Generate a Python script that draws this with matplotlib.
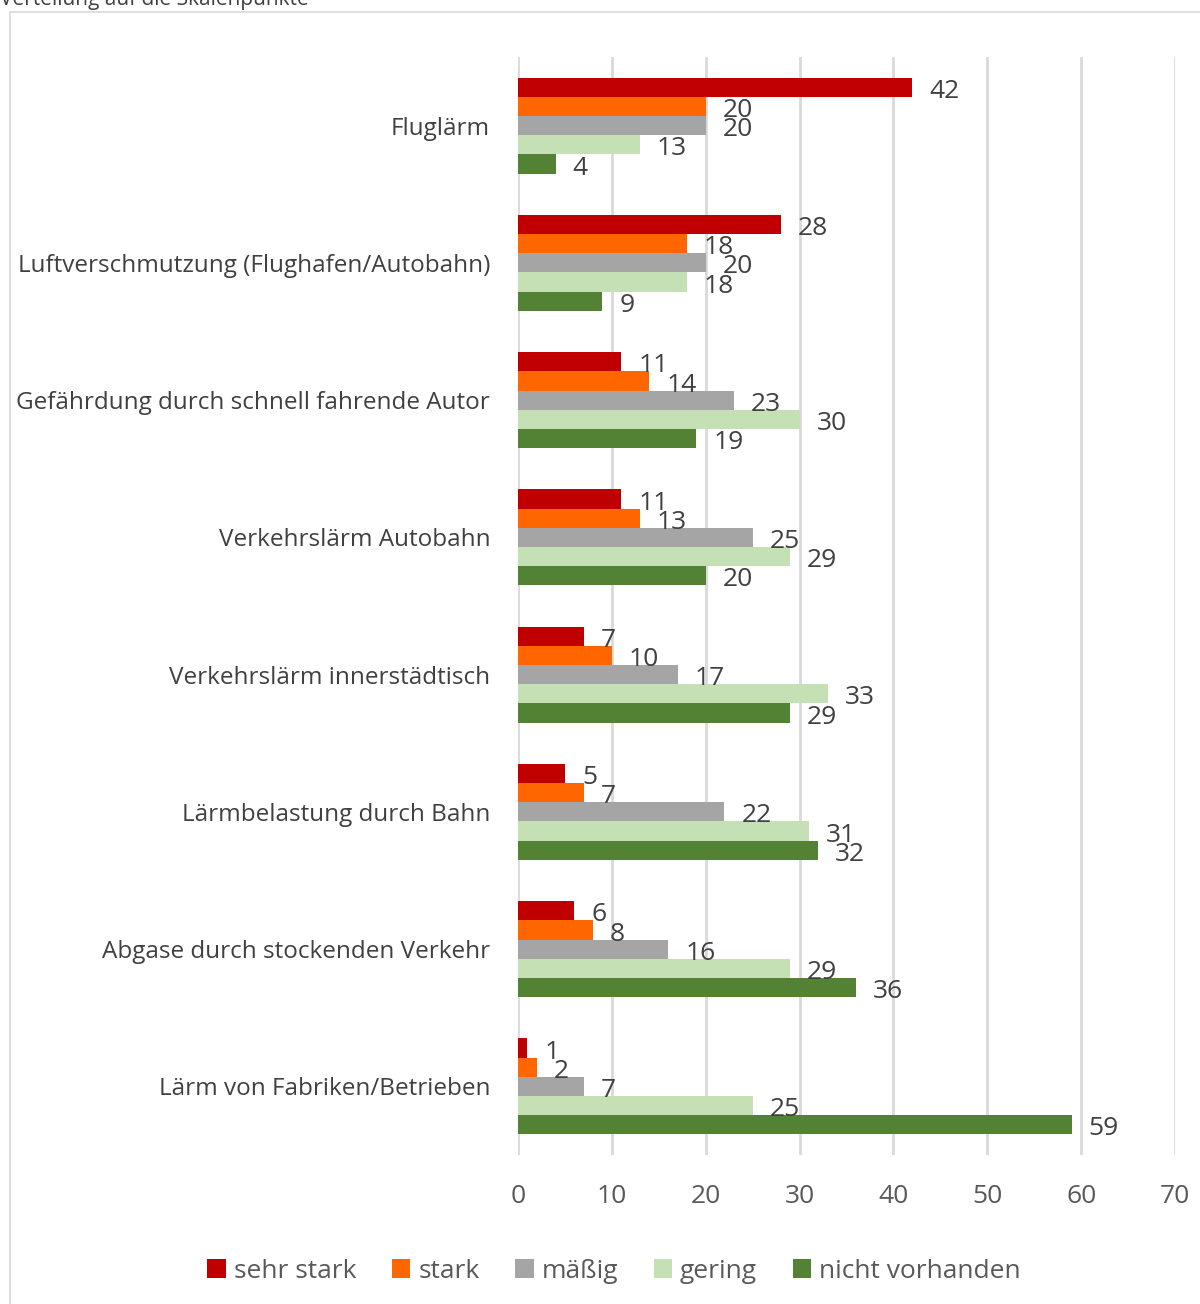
import matplotlib
matplotlib.use("Agg")
import matplotlib.pyplot as plt
from matplotlib.patches import Rectangle, Patch
import numpy as np

plt.rcParams['font.family'] = ['Open Sans', 'DejaVu Sans']

categories = ["Fluglärm", "Luftverschmutzung (Flughafen/Autobahn)",
              "Gefährdung durch schnell fahrende Autor", "Verkehrslärm Autobahn",
              "Verkehrslärm innerstädtisch", "Lärmbelastung durch Bahn",
              "Abgase durch stockenden Verkehr", "Lärm von Fabriken/Betrieben"]
series_names = ["sehr stark", "stark", "mäßig", "gering", "nicht vorhanden"]
sehr_stark = [42, 28, 11, 11, 7, 5, 6, 1]
stark = [20, 18, 14, 13, 10, 7, 8, 2]
maessig = [20, 20, 23, 25, 17, 22, 16, 7]
gering = [13, 18, 30, 29, 33, 31, 29, 25]
nicht_vorhanden = [4, 9, 19, 20, 29, 32, 36, 59]
series_values = [sehr_stark, stark, maessig, gering, nicht_vorhanden]
colors = ["#C00000", "#FF6600", "#A5A5A5", "#C5E0B4", "#548235"]
xticks = [0, 10, 20, 30, 40, 50, 60, 70]

W, H = 1200, 1304
fig = plt.figure(figsize=(W / 100, H / 100), dpi=100)

# outer chart border (cropped)
fig.patches.append(Rectangle((10 / W, -0.01), 1.1, (H - 12) / H + 0.01,
                             transform=fig.transFigure, fill=False,
                             edgecolor="#D9D9D9", linewidth=1.2))
fig.text(0.0, 1 - 5 / H, "Verteilung auf die Skalenpunkte", fontsize=15,
         color="#404040", ha="left", va="baseline")

x0, x1 = 518, 1175
y_top, y_bot = 57, 1155
ax = fig.add_axes([x0 / W, 1 - y_bot / H, (x1 - x0) / W, (y_bot - y_top) / H])
ax.set_xlim(0, 70)
n = len(categories)
ax.set_ylim(n - 0.5, -0.5)

bh = 0.14
for i, (vals, col, name) in enumerate(zip(series_values, colors, series_names)):
    ys = np.arange(n) + (i - 2) * bh
    ax.barh(ys, vals, height=bh, color=col, label=name, zorder=3)
    for y, v in zip(ys, vals):
        ax.text(v + 1.8, y + 0.03, str(v), fontsize=19, color="#404040",
                ha="left", va="center", zorder=4)

ax.set_yticks(np.arange(n))
ax.set_yticklabels(categories, fontsize=17.5, color="#404040")
ax.tick_params(axis="y", length=0, pad=20)
ax.set_xticks(xticks)
ax.set_xticklabels([str(t) for t in xticks], fontsize=19, color="#595959")
ax.tick_params(axis="x", length=0, pad=21)
ax.grid(axis="x", color="#D9D9D9", linewidth=2, zorder=0)
for s in ax.spines.values():
    s.set_visible(False)

handles = [Patch(facecolor=c, label=nm) for c, nm in zip(colors, series_names)]
fig.legend(handles=handles, loc="center", bbox_to_anchor=(614 / W, 1 - 1271 / H),
           ncol=5, frameon=False, fontsize=19, labelcolor="#595959",
           handlelength=0.7, handleheight=0.7, handletextpad=0.3, columnspacing=1.35)

fig.savefig("out.png", dpi=100)
